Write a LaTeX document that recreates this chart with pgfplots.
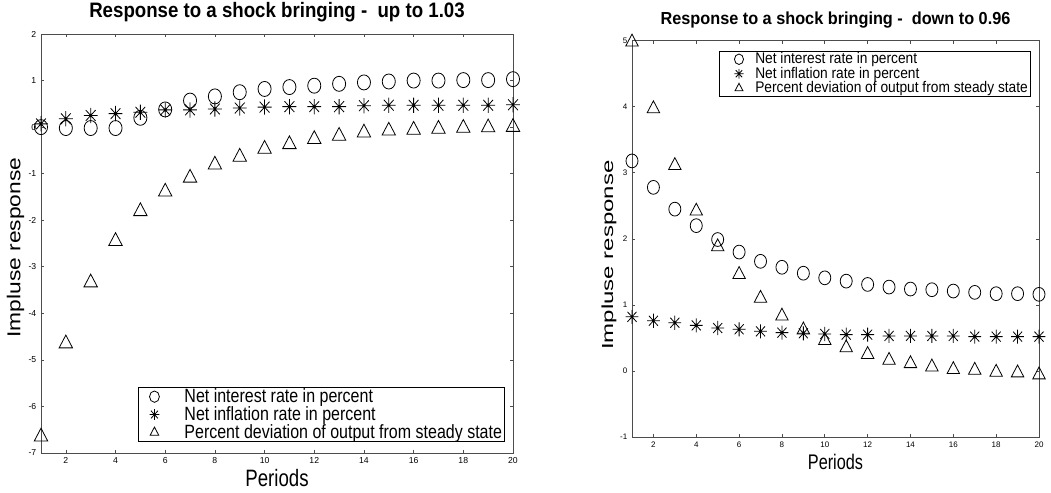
\documentclass[border=0pt]{standalone}
\usepackage{fontspec}
\setmainfont{Liberation Sans}
\usepackage{pgfplots}
\usepackage{pgfplotstable}
\usepackage{graphicx}
\pgfplotsset{compat=1.18}

% eight-armed star, like the octave '*' marker
\pgfdeclareplotmark{oct}{%
  \pgfpathmoveto{\pgfqpoint{-\pgfplotmarksize}{0pt}}%
  \pgfpathlineto{\pgfqpoint{\pgfplotmarksize}{0pt}}%
  \pgfpathmoveto{\pgfqpoint{0pt}{-\pgfplotmarksize}}%
  \pgfpathlineto{\pgfqpoint{0pt}{\pgfplotmarksize}}%
  \pgfpathmoveto{\pgfqpoint{-.707\pgfplotmarksize}{-.707\pgfplotmarksize}}%
  \pgfpathlineto{\pgfqpoint{.707\pgfplotmarksize}{.707\pgfplotmarksize}}%
  \pgfpathmoveto{\pgfqpoint{-.707\pgfplotmarksize}{.707\pgfplotmarksize}}%
  \pgfpathlineto{\pgfqpoint{.707\pgfplotmarksize}{-.707\pgfplotmarksize}}%
  \pgfusepathqstroke}

% x: period, r: interest, pi: inflation, y: output deviation
\pgfplotstableread{
x  r     pi    y
1  0.00  0.07  -6.65
2  -0.02 0.18  -4.65
3  -0.02 0.25  -3.34
4  -0.02 0.29  -2.45
5  0.20  0.32  -1.81
6  0.38  0.37  -1.39
7  0.57  0.37  -1.09
8  0.66  0.39  -0.81
9  0.75  0.41  -0.64
10 0.82  0.43  -0.47
11 0.86  0.44  -0.37
12 0.89  0.44  -0.26
13 0.93  0.44  -0.19
14 0.96  0.46  -0.12
15 0.98  0.47  -0.08
16 1.00  0.47  -0.06
17 1.00  0.47  -0.04
18 1.01  0.47  -0.02
19 1.01  0.47  -0.01
20 1.03  0.48  0.00
}\uptable

\pgfplotstableread{
x  r     pi    y
1  3.18  0.82  4.98
2  2.78  0.76  3.97
3  2.45  0.73  3.11
4  2.20  0.69  2.42
5  1.99  0.65  1.88
6  1.80  0.63  1.46
7  1.66  0.60  1.10
8  1.57  0.58  0.83
9  1.48  0.57  0.62
10 1.41  0.56  0.46
11 1.36  0.55  0.35
12 1.31  0.55  0.25
13 1.27  0.53  0.16
14 1.24  0.53  0.11
15 1.23  0.53  0.06
16 1.21  0.53  0.02
17 1.19  0.52  0.01
18 1.17  0.52  -0.02
19 1.17  0.52  -0.03
20 1.16  0.52  -0.06
}\downtable

\pgfplotsset{
  irf/.style={
    scale only axis,
    anchor=south west,
    clip=false,
    xmin=1, xmax=20,
    xtick={2,4,...,20},
    tick align=inside,
    major tick length=2.5pt,
    tick style={black!70, line width=0.5pt},
    axis line style={black!70, line width=0.6pt},
    /pgf/number format/assume math mode=true,
    legend cell align=left,
    legend style={draw=black, line width=0.5pt, inner sep=1pt,
      nodes={inner xsep=1pt, inner ysep=0pt},
      /tikz/every even column/.append style={column sep=0pt}},
  },
}

\begin{document}
\begin{tikzpicture}
\useasboundingbox (0,0) rectangle (788.25pt,369.75pt);

% left panel
\begin{axis}[irf,
  at={(30.75pt,30pt)}, width=354pt, height=314.25pt,
  ymin=-7, ymax=2, ytick={-7,...,2},
  tick label style={font=\fontsize{6.5}{7}\selectfont},
  title={\scalebox{1}[1.12]{\textbf{Response to a shock bringing - \ up to 1.03}}},
  title style={font=\fontsize{14}{16}\selectfont, at={(axis description cs:0.5,1.0215)}, anchor=base},
  xlabel={\scalebox{1}[1.27]{Periods}},
  xlabel style={font=\fontsize{14}{16}\selectfont, at={(axis description cs:0.5,-0.081)}, anchor=base},
  ylabel={\scalebox{1.22}[1]{Impluse response}},
  ylabel style={font=\fontsize{14}{16}\selectfont, at={(axis description cs:-0.054,0.49)}, anchor=center},
  legend image code/.code={\path (0pt,0pt) (32pt,0pt);
    \draw[#1, mark size=3.7pt] plot coordinates {(10.75pt,0pt)};},
  legend style={at={(axis description cs:0.983,0.026)}, anchor=south east,
    font=\fontsize{12}{13}\selectfont, row sep=1.5pt},
]
\addplot[only marks, mark=o, mark size=4.9pt, mark options={line width=0.6pt, yscale=1.15}]
  table[x=x, y=r] {\uptable};
\addlegendentry{\scalebox{1}[1.2]{Net interest rate in percent}}
\addplot[only marks, mark=oct, mark size=5.2pt, mark options={line width=0.6pt, yscale=1.1}]
  table[x=x, y=pi] {\uptable};
\addlegendentry{\scalebox{1}[1.2]{Net inflation rate in percent}}
\addplot[only marks, mark=triangle, mark size=5.8pt, mark options={line width=0.6pt, yscale=1.1}]
  table[x=x, y=y] {\uptable};
\addlegendentry{\scalebox{1}[1.2]{Percent deviation of output from steady state}}
\end{axis}

% right panel
\begin{axis}[irf,
  at={(474pt,42pt)}, width=305.25pt, height=297.2pt,
  ymin=-1, ymax=5, ytick={-1,...,5},
  tick label style={font=\fontsize{6}{7}\selectfont},
  title={\scalebox{1}[1.07]{\textbf{Response to a shock bringing - \ down to 0.96}}},
  title style={font=\fontsize{12.2}{14}\selectfont, at={(axis description cs:0.5,1.022)}, anchor=base},
  xlabel={\scalebox{1}[1.3]{Periods}},
  xlabel style={font=\fontsize{12.2}{14}\selectfont, at={(axis description cs:0.5,-0.083)}, anchor=base},
  ylabel={\scalebox{1.5}[1]{Impluse response}},
  ylabel style={font=\fontsize{12}{14}\selectfont, at={(axis description cs:-0.0565,0.459)}, anchor=center},
  legend image code/.code={\path (0pt,0pt) (24.75pt,0pt);
    \draw[#1, mark size=3.4pt] plot coordinates {(13.75pt,0pt)};},
  legend style={at={(axis description cs:0.98,0.974)}, anchor=north east,
    font=\fontsize{10.3}{11}\selectfont, row sep=1pt},
]
\addplot[only marks, mark=o, mark size=4.5pt, mark options={line width=0.6pt, yscale=1.15}]
  table[x=x, y=r] {\downtable};
\addlegendentry{\scalebox{1}[1.12]{Net interest rate in percent}}
\addplot[only marks, mark=oct, mark size=4.8pt, mark options={line width=0.6pt, yscale=1.1}]
  table[x=x, y=pi] {\downtable};
\addlegendentry{\scalebox{1}[1.12]{Net inflation rate in percent}}
\addplot[only marks, mark=triangle, mark size=5.4pt, mark options={line width=0.6pt, yscale=1.1}]
  table[x=x, y=y] {\downtable};
\addlegendentry{\scalebox{1}[1.12]{Percent deviation of output from steady state}}
\end{axis}
\end{tikzpicture}
\end{document}
